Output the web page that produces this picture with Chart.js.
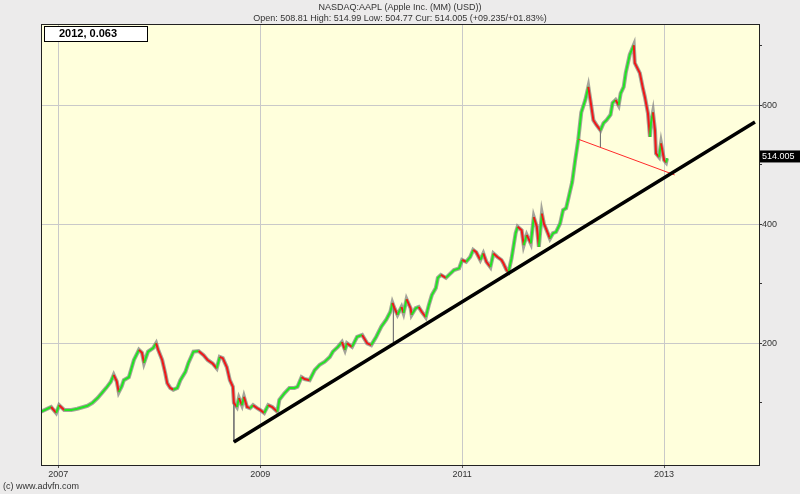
<!DOCTYPE html>
<html>
<head>
<meta charset="utf-8">
<script src="https://cdn.jsdelivr.net/npm/chart.js@4/dist/chart.umd.min.js"></script>
<style>
  html, body { margin: 0; padding: 0; background: #ecebeb; }
  #wrap { width: 800px; height: 494px; }
</style>
</head>
<body>
<div id="wrap"><canvas id="aapl"></canvas></div>
<script>
/* DATA */
// decimal year of each reading and the closing price at that point
const years = [
  2006.83, 2006.93, 2006.98, 2007.01, 2007.06, 2007.13, 2007.19, 2007.25, 2007.29, 2007.34,
  2007.39, 2007.44, 2007.48, 2007.52, 2007.55, 2007.58, 2007.60, 2007.63, 2007.65, 2007.70,
  2007.75, 2007.80, 2007.83, 2007.85, 2007.89, 2007.94, 2007.97, 2007.99, 2008.03, 2008.06,
  2008.08, 2008.11, 2008.14, 2008.18, 2008.21, 2008.26, 2008.29, 2008.34, 2008.39, 2008.44,
  2008.48, 2008.53, 2008.57, 2008.60, 2008.63, 2008.67, 2008.70, 2008.73, 2008.74, 2008.77,
  2008.79, 2008.82, 2008.84, 2008.87, 2008.90, 2008.93, 2008.97, 2009.00, 2009.04, 2009.08,
  2009.12, 2009.17, 2009.19, 2009.24, 2009.29, 2009.34, 2009.37, 2009.41, 2009.44, 2009.49,
  2009.54, 2009.59, 2009.64, 2009.69, 2009.72, 2009.77, 2009.81, 2009.84, 2009.86, 2009.91,
  2009.96, 2010.01, 2010.06, 2010.10, 2010.15, 2010.20, 2010.25, 2010.29, 2010.31, 2010.33,
  2010.36, 2010.40, 2010.42, 2010.45, 2010.49, 2010.50, 2010.54, 2010.57, 2010.60, 2010.64,
  2010.67, 2010.70, 2010.74, 2010.76, 2010.79, 2010.84, 2010.87, 2010.92, 2010.97, 2011.00,
  2011.04, 2011.08, 2011.11, 2011.14, 2011.18, 2011.21, 2011.24, 2011.28, 2011.31, 2011.35,
  2011.39, 2011.41, 2011.44, 2011.46, 2011.49, 2011.53, 2011.55, 2011.59, 2011.61, 2011.64,
  2011.68, 2011.71, 2011.74, 2011.76, 2011.79, 2011.81, 2011.83, 2011.87, 2011.90, 2011.93,
  2011.97, 2012.00, 2012.03, 2012.06, 2012.09, 2012.12, 2012.15, 2012.18, 2012.22, 2012.25,
  2012.27, 2012.30, 2012.33, 2012.37, 2012.40, 2012.43, 2012.47, 2012.49, 2012.52, 2012.55,
  2012.57, 2012.60, 2012.62, 2012.66, 2012.70, 2012.71, 2012.76, 2012.79, 2012.81, 2012.84,
  2012.86, 2012.87, 2012.89, 2012.91, 2012.92, 2012.95, 2012.97, 2013.00, 2013.02, 2013.03
];
const closes = [
  85, 93, 83, 96, 88, 88, 90, 93, 95, 100,
  108, 118, 126, 135, 147, 136, 118, 128, 138, 143,
  172, 189, 184, 167, 186, 192, 200, 189, 172, 150,
  133, 125, 122, 125, 138, 152, 167, 186, 187, 180,
  172, 166, 158, 177, 175, 160, 138, 127, 100, 93,
  108, 96, 110, 93, 91, 96, 91, 88, 83, 96,
  93, 85, 105, 116, 125, 125, 127, 143, 140, 138,
  155, 164, 169, 177, 186, 194, 202, 189, 200, 194,
  211, 214, 200, 197, 211, 228, 240, 253, 268, 259,
  248, 261, 251, 274, 259, 248, 259, 261, 253, 244,
  264, 281, 293, 310, 315, 310, 315, 323, 326, 340,
  337, 345, 357, 353, 340, 351, 337, 328, 351, 345,
  340, 334, 323, 320, 343, 385, 396, 390, 365, 382,
  368, 412, 396, 362, 418, 401, 393, 376, 385, 387,
  401, 424, 427, 449, 471, 508, 542, 588, 609, 631,
  609, 575, 567, 558, 570, 575, 584, 604, 609, 600,
  620, 631, 654, 685, 701, 671, 654, 629, 614, 587,
  547, 570, 588, 558, 519, 513, 536, 508, 504, 511
];

// intraday spikes (gray high-low bars that stick out)
const spikeYears = [2008.74, 2010.32, 2012.37];
const spikeHighs = [100, 262, 560];
const spikeLows = [34, 202, 530];

// drawn trend lines
const supportYears = [2008.74, 2013.90];
const supportValues = [34, 572];
const redLineYears = [2012.15, 2013.105];
const redLineValues = [543, 483];

// axes
const xMin = 2006.83, xMax = 2013.94;
const yMin = -4.5, yMax = 736.6;
const xTicks = [2007, 2009, 2011, 2013];
const yTicks = [100, 200, 300, 400, 500, 600, 700];

const titleLines = [
  "NASDAQ:AAPL (Apple Inc. (MM) (USD))",
  "Open: 508.81 High: 514.99 Low: 504.77 Cur: 514.005 (+09.235/+01.83%)"
];
const boxText = "2012, 0.063";
const curText = "514.005";
const curValue = 514.005;
const footer = "(c) www.advfn.com";

/*****************************************************************/

const pricePoints = years.map((x, i) => ({ x: x, y: closes[i] }));

// spikes as little vertical segments separated by gaps
const spikePoints = [];
spikeYears.forEach((x, i) => {
    spikePoints.push({ x: x, y: spikeHighs[i] });
    spikePoints.push({ x: x, y: spikeLows[i] });
    spikePoints.push({ x: x, y: null });
});

const GREEN = "#22e422";
const RED = "#f01818";
const FONT = "'Liberation Sans', Arial, sans-serif";

// backgrounds, border, title and labels that sit outside the library
const decor = {
    id: "decor",
    beforeDraw(chart) {
        const ctx = chart.ctx;
        const a = chart.chartArea;
        ctx.save();
        ctx.fillStyle = "#ecebeb";
        ctx.fillRect(0, 0, chart.width, chart.height);
        ctx.fillStyle = "#ffffdc";
        ctx.fillRect(a.left, a.top, a.right - a.left, a.bottom - a.top);
        ctx.restore();
    },
    afterDraw(chart) {
        const ctx = chart.ctx;
        const a = chart.chartArea;
        ctx.save();
        // plot border
        ctx.strokeStyle = "#222";
        ctx.lineWidth = 1;
        ctx.strokeRect(a.left + 0.5, a.top + 0.5, a.right - a.left, a.bottom - a.top);

        // title
        ctx.fillStyle = "#333";
        ctx.font = "9px " + FONT;
        ctx.textAlign = "center";
        ctx.textBaseline = "middle";
        ctx.fillText(titleLines[0], 400, 8);
        ctx.fillText(titleLines[1], 400, 19);

        // box top left
        ctx.fillStyle = "#fff";
        ctx.fillRect(44, 26, 103, 15);
        ctx.strokeStyle = "#000";
        ctx.strokeRect(44.5, 26.5, 103, 15);
        ctx.fillStyle = "#000";
        ctx.font = "bold 11px " + FONT;
        ctx.textAlign = "left";
        ctx.fillText(boxText, 59, 34);

        // current price tag
        const yy = chart.scales.y.getPixelForValue(curValue);
        ctx.fillStyle = "#000";
        ctx.fillRect(760, yy - 6, 40, 12);
        ctx.fillStyle = "#fff";
        ctx.font = "9px " + FONT;
        ctx.fillText(curText, 762, yy);

        // footer
        ctx.fillStyle = "#333";
        ctx.font = "9px " + FONT;
        ctx.fillText(footer, 3, 487);
        ctx.restore();
    }
};

const context = document.getElementById("aapl").getContext("2d");
new Chart(context, {
    type: "line",
    data: {
        datasets: [
            {
                // colored close line
                data: pricePoints,
                borderWidth: 2,
                borderColor: GREEN,
                segment: {
                    borderColor: c => c.p1.parsed.y >= c.p0.parsed.y ? GREEN : RED
                },
                pointRadius: 0,
                order: 1
            },
            {
                // gray range underneath
                data: pricePoints,
                borderWidth: 4,
                borderColor: "rgba(125,125,125,0.7)",
                pointRadius: 0,
                order: 2
            },
            {
                data: spikePoints,
                borderWidth: 1,
                borderColor: "#777",
                pointRadius: 0,
                spanGaps: false,
                order: 3
            },
            {
                data: supportYears.map((x, i) => ({ x: x, y: supportValues[i] })),
                borderWidth: 3.5,
                borderColor: "#000",
                pointRadius: 0,
                order: 0
            },
            {
                data: redLineYears.map((x, i) => ({ x: x, y: redLineValues[i] })),
                borderWidth: 1,
                borderColor: "#ff2a2a",
                pointRadius: 0,
                order: 0
            }
        ]
    },
    options: {
        responsive: true,
        maintainAspectRatio: false,
        animation: false,
        layout: { padding: { top: 24, left: 41, right: 0, bottom: 0 } },
        plugins: {
            legend: { display: false },
            tooltip: { enabled: false },
            title: { display: false }
        },
        scales: {
            x: {
                type: "linear",
                min: xMin,
                max: xMax,
                afterBuildTicks: s => { s.ticks = xTicks.map(v => ({ value: v })); },
                afterFit: s => { s.height = 29; },
                grid: { color: "#c9c9c9", tickLength: 3, tickColor: "#555" },
                border: { display: false },
                ticks: {
                    color: "#333",
                    font: { size: 9, family: FONT },
                    padding: 1,
                    maxRotation: 0,
                    callback: v => String(v)
                }
            },
            y: {
                position: "right",
                min: yMin,
                max: yMax,
                afterBuildTicks: s => { s.ticks = yTicks.map(v => ({ value: v })); },
                afterFit: s => { s.width = 41; },
                grid: {
                    color: c => (c.tick && c.tick.value % 200 === 0) ? "#c9c9c9" : "rgba(0,0,0,0)",
                    tickLength: 3,
                    tickColor: "#333"
                },
                border: { display: false },
                ticks: {
                    color: "#333",
                    font: { size: 9, family: FONT },
                    padding: 0,
                    callback: v => (v % 200 === 0 ? String(v) : "")
                }
            }
        }
    },
    plugins: [decor]
});
</script>
</body>
</html>
